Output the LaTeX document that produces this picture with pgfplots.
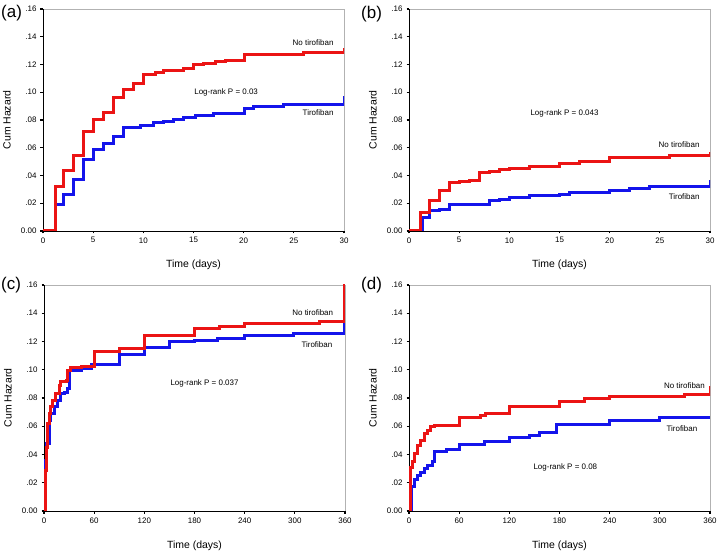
\documentclass[border=0pt]{standalone}
\usepackage{pgfplots}
\pgfplotsset{compat=1.18}
\usepackage{fontspec}
\setmainfont{Liberation Sans}
\definecolor{kmred}{RGB}{235,20,20}
\definecolor{kmblue}{RGB}{20,20,235}
\newcommand{\fsmall}{\fontsize{8}{9}\selectfont}
\newcommand{\flab}{\fontsize{10.5}{12}\selectfont}
\pgfplotsset{
 km/.style={
  scale only axis, width=301bp, clip mode=individual,
  ymin=0, ymax=0.16,
  ytick={0,0.02,0.04,0.06,0.08,0.1,0.12,0.14,0.16},
  yticklabels={0.00,.02,.04,.06,.08,.10,.12,.14,.16},
  xtick pos=bottom, ytick pos=left, tick align=outside,
  major tick length=2.5bp,
  major tick style={black, line width=1.2bp},
  axis line style={draw=none},
  tick label style={font=\fsmall},
  /pgf/number format/assume math mode=true,
  xticklabel style={yshift=-0.5bp},
  yticklabel style={xshift=-0.5bp},
  every axis plot/.append style={const plot, line width=3bp, no marks},
 },
 kmday/.style={km, xmin=0, xmax=30, xtick={0,5,10,15,20,25,30}, xticklabels={0,5,10,15,20,25,30}},
 kmyear/.style={km, xmin=0, xmax=360, xtick={0,60,120,180,240,300,360}, xticklabels={0,60,120,180,240,300,360}},
}
\newcommand{\frameit}{%
  \draw[gray!60, line width=0.8bp] (rel axis cs:0,1) -- (rel axis cs:1,1) -- (rel axis cs:1,0);
  \draw[black, line width=0.8bp] (rel axis cs:0,1) -- (rel axis cs:0,0) -- (rel axis cs:1,0);
}
\newcommand{\labels}[1]{%
  \node[rotate=90, font=\flab] at (axis description cs:-0.12,0.5) {Cum Hazard};
  \node[font=\flab] at (axis description cs:0.5,#1) {Time (days)};
}
\begin{document}
\begin{tikzpicture}
\path[use as bounding box] (0,0) rectangle (719bp,553bp);
\node[font=\fontsize{17}{19}\selectfont, anchor=west, inner sep=0pt] at (1bp,540bp) {(a)};
\node[font=\fontsize{17}{19}\selectfont, anchor=west, inner sep=0pt] at (361bp,539bp) {(b)};
\node[font=\fontsize{17}{19}\selectfont, anchor=west, inner sep=0pt] at (1bp,268bp) {(c)};
\node[font=\fontsize{17}{19}\selectfont, anchor=west, inner sep=0pt] at (361bp,268bp) {(d)};

% (a)
\begin{axis}[kmday, height=222bp, at={(43bp,322bp)}, anchor=south west]
\frameit
\labels{-0.153}
\addplot[kmblue] coordinates {(0,0) (1.2,0.0192) (2.05,0.0265) (3.05,0.0373) (4.05,0.0517) (5.05,0.0587) (6.05,0.0628) (7.05,0.068) (8.05,0.0746) (9.7,0.0763) (11,0.078) (12,0.079) (13,0.0806) (14,0.082) (15.2,0.083) (17,0.085) (20.1,0.0885) (21,0.0897) (24,0.0914) (30,0.097)};
\addplot[kmred] coordinates {(0,0) (1.2,0.032) (2.05,0.0433) (3.0,0.0544) (4.05,0.0715) (5.05,0.080) (6.05,0.0854) (7.0,0.0965) (8.0,0.1018) (9.0,0.1066) (10.0,0.1126) (11.2,0.1145) (12,0.1155) (14,0.117) (15,0.120) (16,0.121) (17.2,0.122) (18.2,0.1227) (20.1,0.1275) (26,0.1287) (30,0.132)};
\node[font=\fsmall, anchor=east] at (axis cs:29.3,0.136) {No tirofiban};
\node[font=\fsmall] at (axis cs:18.25,0.100) {Log-rank P = 0.03};
\node[font=\fsmall, anchor=east] at (axis cs:29.3,0.0854) {Tirofiban};
\end{axis}

% (b)
\begin{axis}[kmday, height=222bp, at={(409bp,322bp)}, anchor=south west]
\frameit
\labels{-0.153}
\addplot[kmblue] coordinates {(0,0) (1.3,0.0095) (2.06,0.0145) (3.06,0.0157) (4.06,0.0193) (8.05,0.0222) (9.05,0.0229) (10.05,0.024) (12,0.0253) (15,0.0265) (16,0.0275) (18,0.028) (20,0.0294) (22,0.0306) (24,0.032) (30,0.0366)};
\addplot[kmred] coordinates {(0,0) (1.1,0.0133) (2.06,0.0217) (3.06,0.0289) (4.06,0.0347) (5.05,0.0354) (6.05,0.0366) (7.05,0.0422) (8.05,0.0431) (9.05,0.044) (10,0.045) (12,0.0463) (15,0.0487) (17,0.050) (20,0.053) (26,0.0547) (30,0.057)};
\node[font=\fsmall] at (axis cs:15.5,0.0848) {Log-rank P = 0.043};
\node[font=\fsmall, anchor=east] at (axis cs:29.3,0.062) {No tirofiban};
\node[font=\fsmall, anchor=east] at (axis cs:29.3,0.0246) {Tirofiban};
\end{axis}

% (c)
\begin{axis}[kmyear, height=226bp, at={(44bp,42bp)}, anchor=south west]
\frameit
\labels{-0.155}
\addplot[kmblue] coordinates {(0,0) (1,0.02) (2,0.036) (3,0.048) (6,0.064) (8,0.069) (12,0.074) (16,0.078) (20,0.083) (24.5,0.084) (28,0.0866) (31,0.0998) (45,0.1007) (57,0.1035) (90,0.111) (120,0.116) (150,0.12) (180,0.1206) (207,0.122) (240,0.124) (299,0.1258) (360,0.141)};
\addplot[kmred] coordinates {(0,0) (1.5,0.029) (2.5,0.045) (4,0.062) (6,0.069) (8.2,0.074) (10,0.078) (14,0.083) (18.4,0.089) (20,0.0915) (26.5,0.0925) (28.6,0.0995) (32,0.1015) (45,0.102) (60,0.1128) (90,0.1147) (120,0.1246) (180,0.1293) (210,0.1305) (240,0.1329) (330,0.1345) (360,0.17)};
\node[font=\fsmall, anchor=east] at (axis cs:350,0.1404) {No tirofiban};
\node[font=\fsmall, anchor=east] at (axis cs:349,0.118) {Tirofiban};
\node[font=\fsmall] at (axis cs:192,0.0904) {Log-rank P = 0.037};
\end{axis}

% (d)
\begin{axis}[kmyear, height=226bp, at={(409bp,42bp)}, anchor=south west]
\frameit
\labels{-0.155}
\addplot[kmblue] coordinates {(0,0) (2.5,0.017) (6,0.022) (10,0.0254) (14,0.027) (18,0.030) (22,0.032) (28,0.035) (30,0.042) (45,0.0435) (60,0.047) (90,0.0494) (120,0.0518) (144,0.0536) (156,0.0553) (176,0.0615) (240,0.064) (300,0.066) (360,0.066)};
\addplot[kmred] coordinates {(0,0) (2,0.031) (4,0.035) (6,0.041) (10,0.0466) (14,0.050) (18,0.055) (22,0.057) (26,0.0595) (30,0.0605) (60,0.0659) (85,0.0678) (91,0.069) (120,0.0741) (180,0.0775) (210,0.0794) (240,0.081) (330,0.0822) (360,0.0886)};
\node[font=\fsmall, anchor=east] at (axis cs:358,0.0886) {No tirofiban};
\node[font=\fsmall, anchor=east] at (axis cs:349,0.0585) {Tirofiban};
\node[font=\fsmall] at (axis cs:187,0.0306) {Log-rank P = 0.08};
\end{axis}
\end{tikzpicture}
\end{document}
